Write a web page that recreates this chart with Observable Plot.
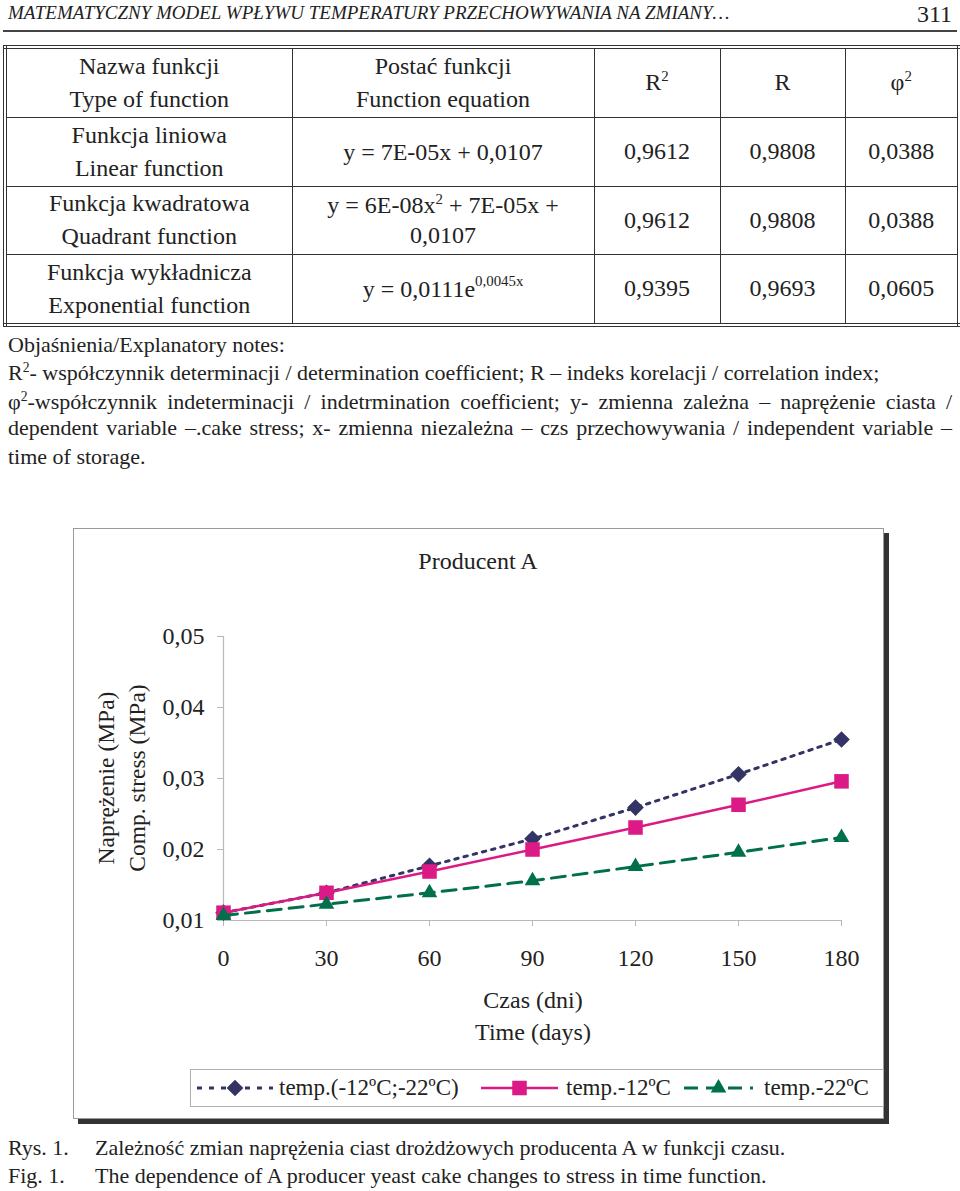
<!DOCTYPE html>
<html>
<head>
<meta charset="utf-8">
<script src="https://cdn.jsdelivr.net/npm/d3@7"></script>
<script src="https://cdn.jsdelivr.net/npm/@observablehq/plot@0.6"></script>
<style>
  body { margin: 0; background: #fff; }
  #page { position: relative; width: 960px; height: 1191px; overflow: hidden;
          font-family: "Liberation Serif", "Times New Roman", serif; color: #222; }
  .abs { position: absolute; white-space: nowrap; }
  sup.s { font-size: 0.62em; vertical-align: 0; position: relative; top: -0.6em; line-height: 0; }
  table.t { position: absolute; left: 3px; top: 45px; width: 954px; height: 278px; font-family: inherit; color: inherit;
            border-collapse: collapse; border: 4px double #333; font-size: 24px; table-layout: fixed; }
  table.t td { border: 1.5px solid #333; text-align: center; vertical-align: middle; padding: 0; line-height: 33px; }
  .note { position: absolute; left: 8px; width: 944px; font-size: 22px; line-height: 28px; height: 28px; white-space: nowrap; }
  .just { white-space: normal; text-align: justify; text-align-last: justify; }
  .cap { position: absolute; font-size: 22px; line-height: 28px; white-space: nowrap; }
  #chartbox { position: absolute; left: 73px; top: 528px; width: 811px; height: 591px; box-sizing: border-box;
              border: 1px solid #9a9a9a; box-shadow: 5px 5px 0 #333; background: #fff; }
  .ctext { position: absolute; font-size: 24px; line-height: 28px; white-space: nowrap; transform: translate(-50%, -50%); }
  #legend { position: absolute; left: 190px; top: 1069px; width: 694px; height: 38px; box-sizing: border-box;
            border: 1px solid #b0b0b0; background: #fff; }
  .litem { position: absolute; top: 0; height: 36px; font-size: 23px; line-height: 36px; white-space: nowrap; }
</style>
</head>
<body>
<div id="page"></div>
<script>
// ---------------- data ----------------
const headerTitle = "MATEMATYCZNY MODEL WPŁYWU TEMPERATURY PRZECHOWYWANIA NA ZMIANY…";
const pageNumber = "311";

const functionNamesPL = ["Funkcja liniowa", "Funkcja kwadratowa", "Funkcja wykładnicza"];
const functionNamesEN = ["Linear function", "Quadrant function", "Exponential function"];
const equations = [
  "y = 7E-05x + 0,0107",
  "y = 6E-08x<sup class='s'>2</sup> + 7E-05x +<br>0,0107",
  "y = 0,0111e<sup class='s' style='top:-0.75em'>0,0045x</sup>"
];
const r2Values = ["0,9612", "0,9612", "0,9395"];
const rValues = ["0,9808", "0,9808", "0,9693"];
const phi2Values = ["0,0388", "0,0388", "0,0605"];

const notesLines = [
  "Objaśnienia/Explanatory notes:",
  "R<sup class='s'>2</sup>- współczynnik determinacji / determination coefficient; R – indeks korelacji / correlation index;",
  "φ<sup class='s'>2</sup>-współczynnik indeterminacji / indetrmination coefficient; y- zmienna zależna – naprężenie ciasta /",
  "dependent variable –.cake stress; x- zmienna niezależna – czs przechowywania / independent variable –",
  "time of storage."
];

const chartTitle = "Producent A";
const yTitle = ["Naprężenie (MPa)", "Comp. stress (MPa)"];
const xTitle = ["Czas (dni)", "Time (days)"];

const days = [0, 30, 60, 90, 120, 150, 180];
const stressMixed = [0.0111, 0.0139, 0.0177, 0.0215, 0.0259, 0.0306, 0.0355];
const stressMinus12 = [0.0111, 0.0139, 0.0169, 0.0200, 0.0231, 0.0263, 0.0296];
const stressMinus22 = [0.0107, 0.0123, 0.0139, 0.0156, 0.0176, 0.0196, 0.0217];

const xTicks = [0, 30, 60, 90, 120, 150, 180];
const yTicks = [0.01, 0.02, 0.03, 0.04, 0.05];

const seriesNames = ["temp.(-12ºC;-22ºC)", "temp.-12ºC", "temp.-22ºC"];
const seriesColors = ["#333366", "#dc1a85", "#00704a"];

const captionLabels = ["Rys. 1.", "Fig. 1."];
const captionTexts = [
  "Zależność zmian naprężenia ciast drożdżowych producenta A w funkcji czasu.",
  "The dependence of A producer yeast cake changes to stress in time function."
];

// ---------------- page ----------------
const page = document.getElementById("page");
function add(html, cls, style) {
  const d = document.createElement("div");
  d.className = cls;
  d.innerHTML = html;
  Object.assign(d.style, style || {});
  page.appendChild(d);
  return d;
}

// header
add(headerTitle, "abs", {left: "8px", top: "1px", fontSize: "19px", fontStyle: "italic", lineHeight: "24px"});
add(pageNumber, "abs", {right: "8px", top: "0px", fontSize: "24px", lineHeight: "28px"});
add("", "abs", {left: "3px", top: "30px", width: "954px", height: "2px", background: "#444"});

// table
const colW = [287, 302, 126, 125, 114];
const rowH = [70, 69, 68, 71];
let tb = "<colgroup>" + colW.map(w => `<col style="width:${w}px">`).join("") + "</colgroup>";
tb += `<tr style="height:${rowH[0]}px"><td>Nazwa funkcji<br>Type of function</td><td>Postać funkcji<br>Function equation</td>` +
      `<td>R<sup class='s'>2</sup></td><td>R</td><td>φ<sup class='s'>2</sup></td></tr>`;
for (let i = 0; i < 3; i++) {
  tb += `<tr style="height:${rowH[i + 1]}px"><td>${functionNamesPL[i]}<br>${functionNamesEN[i]}</td>` +
        `<td style="line-height:30px">${equations[i]}</td><td>${r2Values[i]}</td><td>${rValues[i]}</td><td>${phi2Values[i]}</td></tr>`;
}
const table = document.createElement("table");
table.className = "t";
table.innerHTML = tb;
page.appendChild(table);

// notes
const noteTops = [331, 359, 388, 414, 443];
notesLines.forEach((t, i) => {
  add(t, "note" + (i === 2 || i === 3 ? " just" : ""), {top: noteTops[i] + "px"});
});

// chart box
const cb = document.createElement("div");
cb.id = "chartbox";
page.appendChild(cb);

// ---------------- chart ----------------
const rows = (vals) => days.map((d, i) => ({day: d, stress: vals[i]}));
const fmt = d => d.toFixed(2).replace(".", ",");
const W = 811, H = 591;
const lineStyles = [
  {strokeWidth: 3, strokeDasharray: "3.5,6"},
  {strokeWidth: 2.5},
  {strokeWidth: 3, strokeDasharray: "14,8"}
];
const symbols = ["diamond2", "square", "triangle"];
const symbolR = [7.5, 8.2, 5.8];
const allSeries = [stressMixed, stressMinus12, stressMinus22];

const marks = [
  Plot.ruleX([0], {stroke: "#b8b8b8", strokeWidth: 1.2}),
  Plot.ruleY([0.01], {stroke: "#b8b8b8", strokeWidth: 1.2}),
  Plot.axisX({ticks: xTicks, tickSize: 6, tickPadding: 22, stroke: "#b8b8b8", fill: "#222", fontSize: 24, label: null, tickFormat: d => String(d)}),
  Plot.axisY({ticks: yTicks, tickSize: 6, tickPadding: 13, stroke: "#b8b8b8", fill: "#222", fontSize: 24, label: null, tickFormat: fmt})
];
allSeries.forEach((vals, k) => {
  marks.push(Plot.line(rows(vals), {x: "day", y: "stress", stroke: seriesColors[k], ...lineStyles[k]}));
  marks.push(Plot.dot(rows(vals), {x: "day", y: "stress", symbol: symbols[k], r: symbolR[k], fill: seriesColors[k], stroke: "none"}));
});

const svg = Plot.plot({
  width: W, height: H,
  marginLeft: 150, marginRight: 43, marginTop: 108, marginBottom: 199,
  style: {fontFamily: "Liberation Serif, Times New Roman, serif", fontSize: "24px", color: "#222", background: "transparent", overflow: "visible"},
  x: {domain: [0, 180]},
  y: {domain: [0.01, 0.05]},
  marks
});
svg.style.position = "absolute";
svg.style.left = "73px";
svg.style.top = "528px";
page.appendChild(svg);

// chart texts
add(chartTitle, "ctext", {left: "478px", top: "561px"});
add(xTitle[0], "ctext", {left: "533px", top: "1000px"});
add(xTitle[1], "ctext", {left: "533px", top: "1032px"});
add(yTitle[0], "ctext", {left: "106px", top: "778px", fontSize: "23.5px", transform: "translate(-50%, -50%) rotate(-90deg)"});
add(yTitle[1], "ctext", {left: "137px", top: "778px", fontSize: "23.5px", transform: "translate(-50%, -50%) rotate(-90deg)"});

// legend
const legend = document.createElement("div");
legend.id = "legend";
page.appendChild(legend);
const swX = [6, 290, 493], swW = [76, 77, 69], txX = [88, 375, 573];
seriesNames.forEach((name, k) => {
  const s = d3.create("svg").attr("width", swW[k]).attr("height", 36)
    .style("position", "absolute").style("left", swX[k] + "px").style("top", "0px");
  const ls = lineStyles[k];
  s.append("line").attr("x1", 0).attr("x2", swW[k]).attr("y1", 18).attr("y2", 18)
    .attr("stroke", seriesColors[k]).attr("stroke-width", ls.strokeWidth)
    .attr("stroke-dasharray", k === 0 ? "5,7" : (ls.strokeDasharray || null));
  const sym = {diamond2: d3.symbolDiamond2, square: d3.symbolSquare, triangle: d3.symbolTriangle}[symbols[k]];
  s.append("path").attr("d", d3.symbol(sym, Math.PI * symbolR[k] ** 2)())
    .attr("transform", `translate(${swW[k] / 2},18)`).attr("fill", seriesColors[k]);
  legend.appendChild(s.node());
  const t = document.createElement("div");
  t.className = "litem";
  t.style.left = txX[k] + "px";
  t.textContent = name;
  legend.appendChild(t);
});

// caption
captionLabels.forEach((l, i) => {
  add(l, "cap", {left: "8px", top: (1134 + i * 28) + "px"});
  add(captionTexts[i], "cap", {left: "95px", top: (1134 + i * 28) + "px"});
});
</script>
</body>
</html>
